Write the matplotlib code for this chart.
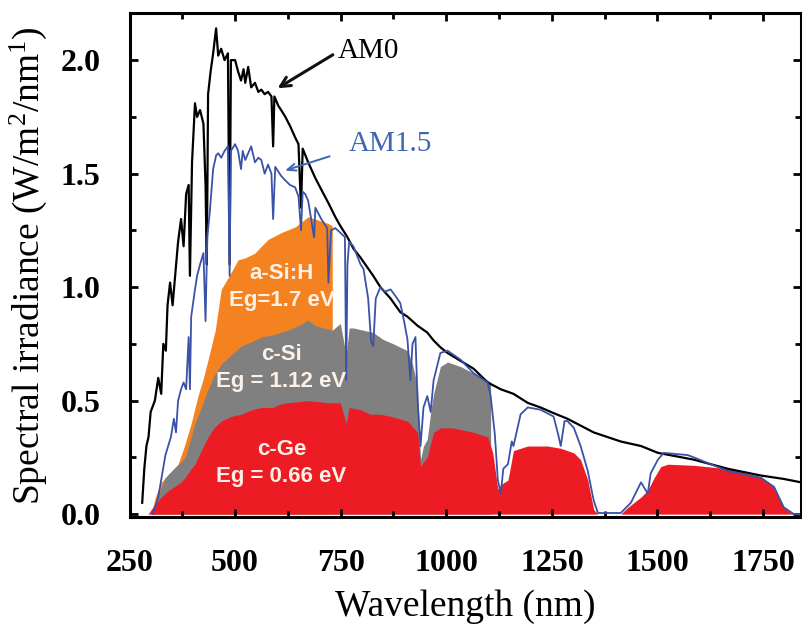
import matplotlib
matplotlib.use("Agg")
import matplotlib.pyplot as plt
import numpy as np

# AM0 extraterrestrial spectrum
am0_wl = [280, 285, 290, 295, 300, 310, 318, 325, 330, 336, 340, 346, 352, 358, 365, 372,
          378, 384, 390, 393, 398, 405, 410, 417, 425, 430, 433, 436, 442, 448, 455, 460,
          467, 475, 483, 487, 490, 500, 507, 514, 520, 524, 531, 538, 547, 555, 562, 570,
          578, 586, 590, 593, 602, 609, 619, 630, 642, 650, 656, 660, 673, 690, 704, 721,
          737, 749, 766, 780, 797, 827, 844, 868, 891, 908, 932, 955, 970, 986, 1003, 1034,
          1065, 1098, 1129, 1159, 1193, 1223, 1254, 1287, 1318, 1349, 1413, 1461, 1501,
          1586, 1666, 1745, 1799, 1840]
am0_val = [0.05, 0.20, 0.30, 0.34, 0.45, 0.50, 0.60, 0.53, 0.75, 0.72, 0.92, 1.02, 0.92, 1.05,
           1.20, 1.30, 1.18, 1.41, 1.45, 1.05, 1.55, 1.81, 1.75, 1.78, 1.72, 1.45, 1.10, 1.85,
           1.95, 2.03, 2.14, 2.02, 2.05, 2.00, 2.03, 1.10, 2.00, 2.00, 1.95, 1.91, 1.96, 1.90,
           1.97, 1.88, 1.90, 1.86, 1.87, 1.85, 1.86, 1.84, 1.62, 1.84, 1.80, 1.78, 1.75, 1.71,
           1.66, 1.63, 1.35, 1.61, 1.55, 1.48, 1.43, 1.37, 1.31, 1.27, 1.22, 1.17, 1.13, 1.05,
           1.00, 0.95, 0.89, 0.87, 0.83, 0.80, 0.765, 0.735, 0.71, 0.675, 0.64, 0.58, 0.55,
           0.53, 0.49, 0.47, 0.445, 0.42, 0.39, 0.36, 0.32, 0.30, 0.27, 0.24, 0.20, 0.17,
           0.155, 0.14]

# AM1.5 terrestrial spectrum
am15_wl = [305, 312, 318, 325, 335, 348, 355, 360, 365, 372, 378, 384, 390, 393, 396, 405,
           410, 417, 425, 430, 434, 440, 448, 455, 460, 467, 475, 483, 487, 490, 500, 507,
           514, 518, 524, 531, 538, 547, 555, 562, 570, 578, 586, 590, 595, 609, 619, 630,
           642, 650, 656, 660, 666, 673, 687, 690, 704, 718, 721, 727, 737, 749, 760, 763,
           766, 770, 780, 797, 804, 815, 822, 827, 833, 844, 855, 868, 880, 891, 900, 908,
           915, 920, 927, 932, 939, 946, 955, 963, 970, 986, 1003, 1034, 1065, 1098, 1105,
           1115, 1122, 1129, 1135, 1146, 1155, 1159, 1176, 1193, 1223, 1254, 1265, 1271,
           1280, 1287, 1302, 1318, 1335, 1349, 1359, 1413, 1437, 1461, 1477, 1484, 1501,
           1515, 1572, 1586, 1666, 1745, 1776, 1799, 1823, 1840]
am15_val = [0.0, 0.04, 0.075, 0.15, 0.26, 0.34, 0.42, 0.36, 0.50, 0.55, 0.58, 0.55, 0.78,
            0.55, 0.87, 0.99, 1.05, 1.10, 1.15, 0.85, 1.22, 1.33, 1.52, 1.58, 1.59, 1.57,
            1.60, 1.62, 1.05, 1.60, 1.63, 1.60, 1.52, 1.60, 1.56, 1.59, 1.62, 1.55, 1.57,
            1.56, 1.50, 1.54, 1.50, 1.30, 1.53, 1.49, 1.47, 1.45, 1.44, 1.40, 1.25, 1.42,
            1.41, 1.38, 1.22, 1.35, 1.30, 1.26, 1.02, 1.25, 1.26, 1.24, 1.22, 0.59, 1.10,
            1.20, 1.18, 1.10, 1.08, 0.95, 0.76, 0.74, 0.95, 1.00, 0.98, 0.99, 0.96, 0.93,
            0.85, 0.77, 0.59, 0.75, 0.78, 0.50, 0.30, 0.47, 0.52, 0.45, 0.59, 0.71, 0.72,
            0.68, 0.62, 0.58, 0.52, 0.35, 0.15, 0.09, 0.20, 0.22, 0.32, 0.30, 0.44, 0.47,
            0.46, 0.43, 0.35, 0.30, 0.41, 0.41, 0.38, 0.30, 0.19, 0.06, 0.005, 0.005, 0.05,
            0.14, 0.09, 0.18, 0.24, 0.27, 0.26, 0.25, 0.19, 0.16, 0.12, 0.03, 0.0, 0.0]

# usable part of the spectrum for each absorber
asi_wl = [301, 312, 325, 345, 365, 380, 396, 412, 425, 436, 453, 460, 467, 483, 507, 525,
          547, 562, 578, 609, 642, 673, 697, 721, 730]
asi_val = [0.0, 0.08, 0.14, 0.18, 0.22, 0.30, 0.40, 0.52, 0.60, 0.68, 0.81, 0.90, 0.99, 1.04,
           1.12, 1.13, 1.15, 1.18, 1.21, 1.24, 1.265, 1.31, 1.295, 1.28, 1.27]

csi_wl = [305, 318, 334, 355, 382, 396, 405, 420, 436, 450, 467, 490, 514, 540, 562, 590,
          624, 650, 673, 690, 730, 749, 763, 770, 780, 827, 850, 875, 908, 920, 932, 939,
          946, 955, 963, 970, 986, 1003, 1034, 1065, 1098, 1105]
csi_val = [0.0, 0.08, 0.16, 0.20, 0.25, 0.34, 0.40, 0.47, 0.55, 0.61, 0.66, 0.70, 0.74, 0.76,
           0.78, 0.79, 0.81, 0.83, 0.855, 0.83, 0.81, 0.84, 0.70, 0.82, 0.82, 0.80, 0.77, 0.75,
           0.72, 0.66, 0.56, 0.24, 0.30, 0.33, 0.45, 0.53, 0.65, 0.67, 0.65, 0.62, 0.59, 0.58]

cge_wl = [294, 305, 325, 340, 355, 372, 385, 396, 405, 420, 436, 450, 467, 490, 514, 540,
          562, 590, 600, 619, 650, 673, 700, 721, 749, 763, 770, 797, 820, 844, 870, 908,
          932, 939, 946, 955, 970, 986, 1015, 1065, 1098, 1110, 1122, 1129, 1146, 1159,
          1193, 1240, 1271, 1302, 1318, 1335, 1349, 1359, 1413, 1430, 1461, 1477, 1492,
          1508, 1525, 1586, 1666, 1745, 1776, 1799, 1816, 1840]
cge_val = [0.0, 0.03, 0.075, 0.10, 0.12, 0.14, 0.17, 0.20, 0.22, 0.28, 0.34, 0.38, 0.41,
           0.43, 0.44, 0.46, 0.47, 0.47, 0.48, 0.49, 0.495, 0.50, 0.495, 0.49, 0.49, 0.40,
           0.47, 0.46, 0.44, 0.44, 0.43, 0.41, 0.36, 0.21, 0.23, 0.25, 0.36, 0.38, 0.38,
           0.36, 0.34, 0.27, 0.11, 0.13, 0.15, 0.28, 0.30, 0.30, 0.29, 0.27, 0.24, 0.15,
           0.02, 0.0, 0.0, 0.03, 0.075, 0.105, 0.16, 0.21, 0.22, 0.215, 0.20, 0.165, 0.12,
           0.03, 0.005, 0.0]

plt.rcParams['mathtext.fontset'] = 'custom'
plt.rcParams['mathtext.rm'] = 'Liberation Serif'
plt.rcParams['mathtext.it'] = 'Liberation Serif:italic'

fig = plt.figure(figsize=(8.03, 6.26), dpi=100)
ax = fig.add_axes([0.1613, 0.174, 0.8363, 0.805])

ax.fill_between(asi_wl, asi_val, 0, color='#F58220', lw=0)
ax.fill_between(csi_wl, csi_val, 0, color='#808080', lw=0)
ax.fill_between(cge_wl, cge_val, 0, color='#ED1C24', lw=0)
ax.plot(am0_wl, am0_val, color='black', lw=1.6)
ax.plot(am15_wl, am15_val, color='#3A52A8', lw=1.3)

lab_kw = dict(color='#FDF0E6', fontsize=16, fontweight='bold', family='Liberation Sans',
              ha='center', va='center')
ax.text(610, 1.06, 'a-Si:H', **lab_kw)
ax.text(610, 0.94, 'Eg=1.7 eV', **lab_kw)
ax.text(610, 0.705, 'c-Si', **lab_kw)
ax.text(610, 0.585, 'Eg = 1.12 eV', **lab_kw)
ax.text(610, 0.285, 'c-Ge', **lab_kw)
ax.text(610, 0.165, 'Eg = 0.66 eV', **lab_kw)

ax.annotate('', xy=(595, 1.87), xytext=(737, 2.03),
            arrowprops=dict(arrowstyle='->,head_length=0.7,head_width=0.35', color='#111111', lw=2.2))
ax.text(744, 2.04, 'AM0', fontsize=21, family='Liberation Serif', ha='left', va='center')
ax.annotate('', xy=(612, 1.51), xytext=(730, 1.58),
            arrowprops=dict(arrowstyle='->,head_length=0.6,head_width=0.25', color='#3F66B5', lw=1.4))
ax.text(768, 1.63, 'AM1.5', fontsize=21, family='Liberation Serif', color='#3F66B5',
        ha='left', va='center')

ax.set_xlim(250, 1840)
ax.set_ylim(-0.013, 2.207)
ax.set_xticks([250, 500, 750, 1000, 1250, 1500, 1750])
ax.set_xticks(np.arange(375, 1840, 250), minor=True)
ax.set_yticks([0.0, 0.5, 1.0, 1.5, 2.0])
ax.set_yticks([0.25, 0.75, 1.25, 1.75], minor=True)
ax.set_yticklabels(['0.0', '0.5', '1.0', '1.5', '2.0'])
ax.tick_params(which='both', direction='in', top=True, right=True, width=2.0)
ax.tick_params(which='major', length=6)
ax.tick_params(axis='x', which='major', pad=23)
ax.tick_params(axis='y', which='major', pad=21)
ax.tick_params(which='minor', length=4)
for lbl in ax.get_xticklabels() + ax.get_yticklabels():
    lbl.set_fontfamily('Liberation Serif')
    lbl.set_fontweight('bold')
    lbl.set_fontsize(23)
for sp in ax.spines.values():
    sp.set_linewidth(2.2)

ax.set_xlabel('Wavelength (nm)', fontsize=27, family='Liberation Serif', labelpad=8)
ax.set_ylabel(r'Spectral irradiance (W/m$^2$/nm$^1$)', fontsize=27, family='Liberation Serif',
              labelpad=8)

fig.savefig('out.png', dpi=100)
